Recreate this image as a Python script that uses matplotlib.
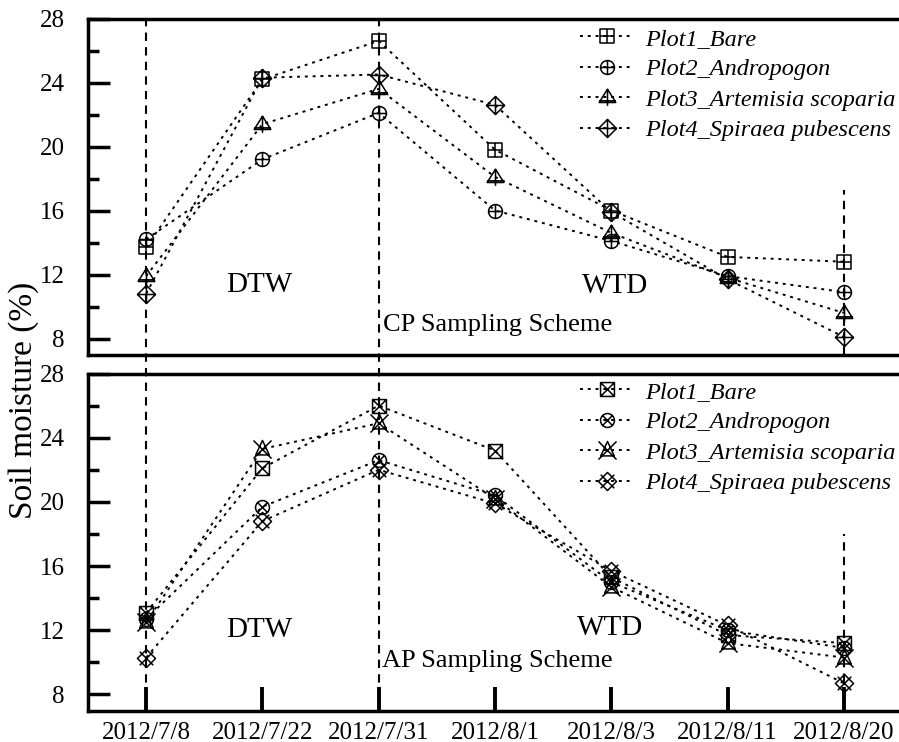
import matplotlib
matplotlib.use('Agg')
import matplotlib.pyplot as plt
import matplotlib.transforms as mtransforms
from matplotlib.lines import Line2D
from matplotlib.path import Path
from matplotlib.ticker import MultipleLocator
import numpy as np

plt.rcParams['font.family'] = ['Liberation Serif', 'DejaVu Serif']

dates = ['2012/7/8', '2012/7/22', '2012/7/31', '2012/8/1', '2012/8/3', '2012/8/11', '2012/8/20']
labels = ['Plot1_Bare', 'Plot2_Andropogon', 'Plot3_Artemisia scoparia', 'Plot4_Spiraea pubescens']

# CP sampling scheme
cp_bare = [13.7, 24.2, 26.6, 19.8, 16.0, 13.1, 12.8]
cp_andro = [14.2, 19.2, 22.1, 16.0, 14.1, 11.9, 10.9]
cp_arte = [11.9, 21.4, 23.6, 18.1, 14.6, 11.8, 9.6]
cp_spir = [10.8, 24.3, 24.5, 22.6, 15.9, 11.7, 8.1]

# AP sampling scheme
ap_bare = [13.1, 22.1, 26.0, 23.2, 15.3, 11.7, 11.2]
ap_andro = [12.7, 19.7, 22.6, 20.4, 15.0, 12.0, 10.9]
ap_arte = [12.5, 23.3, 24.9, 20.2, 14.7, 11.2, 10.3]
ap_spir = [10.3, 18.8, 22.0, 19.9, 15.7, 12.3, 8.7]


def mk(outline, extra):
	# outline polygon (closed) plus open strokes
	verts = list(outline) + [outline[0]]
	codes = [Path.MOVETO] + [Path.LINETO] * (len(outline) - 1) + [Path.CLOSEPOLY]
	p = Path(verts, codes)
	for a, b in extra:
		p = Path.make_compound_path(p, Path([a, b], [Path.MOVETO, Path.LINETO]))
	return p


def mk_circle(extra):
	p = Path.unit_circle()
	for a, b in extra:
		p = Path.make_compound_path(p, Path([a, b], [Path.MOVETO, Path.LINETO]))
	return p


plus = [((-1, 0), (1, 0)), ((0, -1), (0, 1))]
d = 0.707
cross = [((-1, -1), (1, 1)), ((-1, 1), (1, -1))]
ccross = [((-d, -d), (d, d)), ((-d, d), (d, -d))]
sq = [(-1, -1), (1, -1), (1, 1), (-1, 1)]
tri = [(-1, -0.6), (1, -0.6), (0, 1)]
dia = [(0, 1), (1, 0), (0, -1), (-1, 0)]

cp_markers = [
	(mk(sq, plus), 10),
	(mk_circle(plus), 10),
	(mk(tri, [((-1, -0.4), (1, -0.4)), ((0, 1), (0, -1))]), 12),
	(mk(dia, plus), 13),
]
ap_markers = [
	(mk(sq, cross), 10),
	(mk_circle(ccross), 10),
	(mk([(-0.75, -0.6), (0.75, -0.6), (0, 1)], cross), 13),
	(mk(dia, [((-0.75, -0.75), (0.75, 0.75)), ((-0.75, 0.75), (0.75, -0.75))]), 13),
]

fig = plt.figure(figsize=(8.99, 7.42), dpi=100)
W, H = 899., 742.
x0 = 88 / W
aw = 814 / W
ax1 = fig.add_axes((x0, 1 - 354.5 / H, aw, 336 / H))
ax2 = fig.add_axes((x0, 1 - 710.5 / H, aw, 337 / H))

x = np.arange(len(dates))
ls = (0, (1.5, 2.5))


def panel(ax, series, markers, texts, vtop, legy):
	handles = []
	for vals, (m, ms) in zip(series, markers):
		h, = ax.plot(x, vals, color='black', ls=ls, lw=1.4, marker=m, ms=ms,
			mfc='none', mec='black', mew=1.1, clip_on=False, zorder=3)
		handles.append(h)
	ax.set_xlim(-0.5, 6.5)
	ax.set_ylim(7, 28)
	ax.yaxis.set_major_locator(MultipleLocator(4))
	ax.yaxis.set_minor_locator(MultipleLocator(2))
	ax.set_yticks([8, 12, 16, 20, 24, 28])
	ax.tick_params(axis='y', which='major', direction='in', length=16, width=2.5, labelsize=18, pad=17)
	ax.tick_params(axis='y', which='minor', direction='in', length=8, width=2.5)
	for s in ['left', 'top', 'bottom']:
		ax.spines[s].set_linewidth(2.5)
	ax.spines['right'].set_visible(False)
	ax.vlines(6, 7, vtop, color='black', ls=(0, (4, 3)), lw=1.5, zorder=2)
	for tx, ty, s, fs in texts:
		ax.text(tx, ty, s, ha='center', va='baseline', fontsize=fs)
	ax.legend(handles, labels, loc='upper left', frameon=False,
		prop={'style': 'italic', 'size': 17.5}, handlelength=2.18, handletextpad=0.5,
		labelspacing=0.35, borderpad=0, borderaxespad=0,
		bbox_to_anchor=(0.605, legy), bbox_transform=ax.transAxes)
	return handles


panel(ax1, [cp_bare, cp_andro, cp_arte, cp_spir], cp_markers,
	[(0.97, 10.93, 'DTW', 21), (4.03, 10.87, 'WTD', 21), (3.02, 8.44, 'CP Sampling Scheme', 19)], 17.3, 0.973)
panel(ax2, [ap_bare, ap_andro, ap_arte, ap_spir], ap_markers,
	[(0.97, 11.56, 'DTW', 21), (3.99, 11.69, 'WTD', 21), (3.02, 9.69, 'AP Sampling Scheme', 19)], 18.0, 0.979)

ax1.set_xticks(x)
ax1.tick_params(axis='x', length=0, labelbottom=False)
ax2.set_xticks(x)
ax2.set_xticklabels(dates)
ax2.tick_params(axis='x', direction='in', length=17, width=2.8, labelsize=18, pad=8)

# dashed lines spanning both panels
tr = mtransforms.blended_transform_factory(ax2.transData, fig.transFigure)
for xi in [0, 2]:
	fig.add_artist(Line2D([xi, xi], [1 - 18 / H, 1 - 690 / H], transform=tr,
		color='black', ls=(0, (4, 3)), lw=1.5, zorder=2))

fig.text(0.026, 0.46, 'Soil moisture (%)', rotation=90, ha='center', va='center', fontsize=24)

fig.savefig('out.png', dpi=100)
